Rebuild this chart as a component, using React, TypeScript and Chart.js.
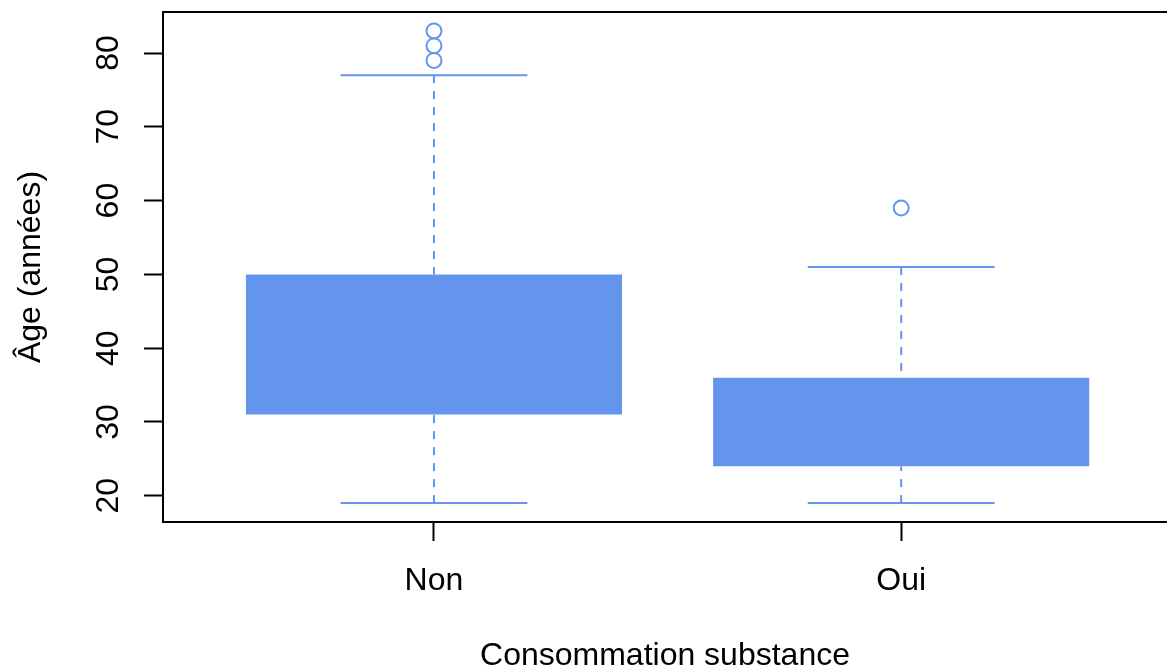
import React, { useEffect, useRef } from "react";
import { Chart, registerables } from "chart.js";

Chart.register(...registerables);

// ---- data ----
const categories = ["Non", "Oui"];
const positions = [1, 2];
const lowerWhisker = [19, 19];
const firstQuartile = [31, 24];
const thirdQuartile = [50, 36];
const upperWhisker = [77, 51];
const outliersNon = [79, 81, 83];
const outliersOui = [59];
const yTickValues = [20, 30, 40, 50, 60, 70, 80];

const COLOR = "#6495ED";
const FONT = "'Liberation Sans', Arial, Helvetica, sans-serif";

export default function App() {
  const ref = useRef<HTMLCanvasElement>(null);

  useEffect(() => {
    const canvas = ref.current;
    if (!canvas) return;
    const halfStaple = 0.2;
    const datasets: any[] = [];

    datasets.push({
      type: "bar",
      data: positions.map((p, i) => ({ x: p, y: [firstQuartile[i], thirdQuartile[i]] })),
      backgroundColor: COLOR,
      borderColor: COLOR,
      borderWidth: 0,
      borderSkipped: false,
      categoryPercentage: 0.805,
      barPercentage: 1,
      order: 5,
    });

    const lineBase = {
      type: "line",
      borderColor: COLOR,
      borderWidth: 2,
      pointRadius: 0,
      fill: false,
      tension: 0,
      borderCapStyle: "butt",
      order: 3,
    };

    positions.forEach((p, i) => {
      datasets.push({
        ...lineBase,
        borderDash: [8, 8],
        data: [
          { x: p, y: upperWhisker[i] },
          { x: p, y: thirdQuartile[i] },
        ],
      });
      datasets.push({
        ...lineBase,
        borderDash: [8, 8],
        data: [
          { x: p, y: lowerWhisker[i] },
          { x: p, y: firstQuartile[i] },
        ],
      });
      datasets.push({
        ...lineBase,
        data: [
          { x: p - halfStaple, y: upperWhisker[i] },
          { x: p + halfStaple, y: upperWhisker[i] },
        ],
      });
      datasets.push({
        ...lineBase,
        data: [
          { x: p - halfStaple, y: lowerWhisker[i] },
          { x: p + halfStaple, y: lowerWhisker[i] },
        ],
      });
    });

    const outlierGroups = [outliersNon, outliersOui];
    datasets.push({
      type: "scatter",
      data: outlierGroups.flatMap((g, i) => g.map((v) => ({ x: positions[i], y: v }))),
      pointStyle: "circle",
      pointRadius: 7.5,
      pointBorderWidth: 2,
      pointBorderColor: COLOR,
      pointBackgroundColor: "rgba(0,0,0,0)",
      order: 1,
    });

    // R-style box frame; its right side lies just beyond the visible page
    const framePlugin = {
      id: "frame",
      afterDraw(chart: any) {
        const { ctx, chartArea } = chart;
        ctx.save();
        ctx.strokeStyle = "#000";
        ctx.lineWidth = 2;
        ctx.beginPath();
        ctx.moveTo(chartArea.right + 2, chartArea.top);
        ctx.lineTo(chartArea.left, chartArea.top);
        ctx.lineTo(chartArea.left, chartArea.bottom);
        ctx.lineTo(chartArea.right + 2, chartArea.bottom);
        ctx.stroke();
        ctx.restore();
      },
    };

    const zeroPad = (s: any) => {
      s.paddingTop = 0;
      s.paddingBottom = 0;
      s.paddingLeft = 0;
      s.paddingRight = 0;
    };

    const tickFont = { family: FONT, size: 32, lineHeight: 1 };

    const chart = new Chart(canvas, {
      type: "bar",
      data: { datasets },
      options: {
        animation: false,
        responsive: false,
        devicePixelRatio: 1,
        layout: { autoPadding: false, padding: { top: 12, right: 0, left: 0, bottom: 0 } },
        plugins: { legend: { display: false }, tooltip: { enabled: false } },
        scales: {
          x: {
            type: "linear",
            min: 0.42,
            max: 2.569,
            offset: false,
            afterBuildTicks: (s: any) => {
              s.ticks = positions.map((v) => ({ value: v }));
            },
            afterFit: (s: any) => {
              s.height = 150;
              zeroPad(s);
            },
            ticks: {
              autoSkip: false,
              maxRotation: 0,
              minRotation: 0,
              padding: 24,
              color: "#000",
              font: tickFont,
              callback: (v: any) => {
                const idx = positions.indexOf(Number(v));
                return idx >= 0 ? categories[idx] : "";
              },
            },
            grid: {
              display: true,
              offset: false,
              drawOnChartArea: false,
              drawTicks: true,
              tickLength: 19,
              tickColor: "#000",
              tickWidth: 2,
            },
            border: { display: false },
            title: {
              display: true,
              text: "Consommation substance",
              color: "#000",
              font: { family: FONT, size: 32, lineHeight: 1 },
              padding: { top: 0, bottom: 0 },
            },
          },
          y: {
            type: "linear",
            min: 16.44,
            max: 85.56,
            afterBuildTicks: (s: any) => {
              s.ticks = yTickValues.map((v) => ({ value: v }));
            },
            afterFit: (s: any) => {
              s.width = 163;
              zeroPad(s);
            },
            ticks: {
              autoSkip: false,
              minRotation: 90,
              maxRotation: 90,
              crossAlign: "center",
              padding: 17,
              color: "#000",
              font: tickFont,
            },
            grid: {
              display: true,
              drawOnChartArea: false,
              drawTicks: true,
              tickLength: 19,
              tickColor: "#000",
              tickWidth: 2,
            },
            border: { display: false },
            title: {
              display: true,
              text: "Âge (années)",
              color: "#000",
              font: { family: FONT, size: 32, lineHeight: 1 },
              padding: { top: 15, bottom: 0 },
            },
          },
        },
      } as any,
      plugins: [framePlugin],
    });

    return () => chart.destroy();
  }, []);

  return (
    <div
      style={{
        position: "fixed",
        left: 0,
        top: 0,
        width: "100vw",
        height: "100vh",
        overflow: "hidden",
        background: "#fff",
      }}
    >
      <canvas ref={ref} width={1167} height={672} style={{ display: "block" }} />
    </div>
  );
}
